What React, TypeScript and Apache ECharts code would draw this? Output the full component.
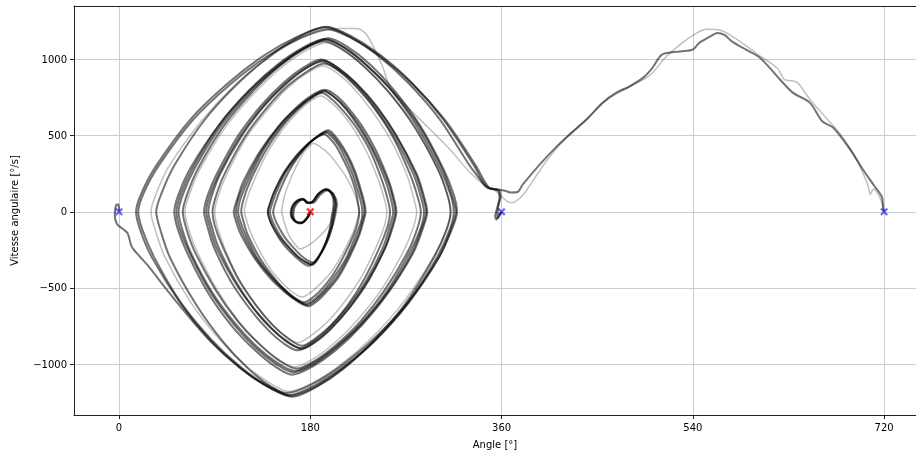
import React, { useEffect, useRef } from 'react';
import * as echarts from 'echarts';

const xTicks = [0, 180, 360, 540, 720];
const yTicks = [-1000, -500, 0, 500, 1000];
const startPoint = [[180, 0]];
const endPoints = [[0, 0], [360, 0], [720, 0]];

// Trial A: spiral then balance at 360
const trialA = [
  [180,0],[178,-35],[172,-72],[166,-62],[163,-20],[164,30],[168,70],[173,82],[177,60],[181,62],[187,115],[194,145],[200,120],[203,60],[202,0],
  [201,-35],[200,-86],[196,-172],[192,-241],[188,-293],[184,-328],[181,-345],[175,-328],[168,-293],[161,-241],[153,-172],[146,-86],[143,-35],[142,0],
  [144,52],[148,130],[157,260],[168,364],[178,442],[187,494],[195,520],[200,494],[206,442],[212,364],[219,260],[225,130],[228,52],[229,0],
  [228,-60],[223,-151],[214,-302],[203,-423],[193,-514],[184,-575],[176,-605],[167,-575],[156,-514],[143,-423],[130,-302],[119,-151],[114,-60],[112,0],
  [114,79],[121,198],[135,395],[151,553],[167,672],[181,751],[193,790],[203,751],[214,672],[226,553],[239,395],[251,198],[256,79],[258,0],
  [255,-90],[249,-224],[233,-448],[215,-627],[198,-761],[183,-850],[170,-895],[157,-850],[143,-761],[126,-627],[109,-448],[93,-224],[87,-90],[84,0],
  [87,99],[95,247],[115,494],[136,691],[157,839],[175,938],[191,987],[205,938],[222,839],[240,691],[259,494],[277,247],[284,99],[287,0],
  [284,-105],[274,-261],[252,-523],[228,-732],[204,-888],[183,-993],[165,-1045],[149,-993],[130,-888],[109,-732],[87,-523],[67,-261],[59,-105],[56,0],
  [60,113],[71,283],[96,566],[124,792],[151,961],[174,1074],[195,1131],[213,1074],[233,961],[257,792],[280,566],[302,283],[312,113],[315,0],
  [311,-121],[299,-302],[271,-604],[241,-846],[211,-1027],[185,-1148],[162,-1208],[143,-1148],[121,-1027],[97,-846],[72,-604],[48,-302],[39,-121],[35,0],
  [40,122],[52,304],[81,608],[113,851],[144,1034],[171,1155],[195,1216],[218,1155],[245,1034],[275,851],[305,608],[334,304],[342,200],[348,155],[353,150],[358,140],[359,100],[357,40],[356,-20],[356,-45],[358,-20],[360,0]
];

// Trial B: spiral, over the top, one more turn to 720
const trialB = [
  [180,0],[177,-40],[171,-75],[165,-58],[162,-15],[163,35],[168,75],[173,85],[178,58],[182,65],[188,120],[195,150],[201,118],[204,55],[203,0],
  [202,-34],[201,-84],[197,-168],[193,-235],[189,-285],[186,-318],[183,-335],[177,-318],[171,-285],[164,-235],[156,-168],[149,-84],[146,-34],[145,0],
  [147,54],[151,134],[160,268],[170,375],[180,455],[189,508],[197,535],[202,508],[208,455],[215,375],[222,268],[228,134],[231,54],[232,0],
  [230,-62],[226,-155],[216,-310],[206,-434],[195,-527],[186,-589],[178,-620],[168,-589],[156,-527],[142,-434],[128,-310],[115,-155],[110,-62],[108,0],
  [111,80],[117,200],[133,400],[150,560],[167,680],[182,760],[195,800],[205,760],[216,680],[229,560],[242,400],[254,200],[259,80],[261,0],
  [258,-91],[251,-228],[234,-455],[216,-637],[198,-774],[182,-865],[168,-910],[155,-865],[140,-774],[123,-637],[105,-455],[89,-228],[83,-91],[80,0],
  [83,100],[92,250],[112,500],[134,700],[155,850],[174,950],[190,1000],[205,950],[222,850],[241,700],[261,500],[280,250],[287,100],[290,0],
  [286,-107],[277,-268],[253,-535],[228,-749],[204,-910],[182,-1017],[163,-1070],[147,-1017],[128,-910],[106,-749],[84,-535],[64,-268],[55,-107],[52,0],
  [56,114],[67,285],[94,570],[123,798],[151,969],[176,1083],[197,1140],[215,1083],[236,969],[259,798],[283,570],[305,285],[315,114],[318,0],
  [313,-119],[301,-298],[272,-595],[240,-833],[209,-1012],[182,-1131],[158,-1190],[137,-1131],[113,-1012],[86,-833],[58,-595],[33,-298],[22,-119],[18,0],
  [23,120],[37,300],[69,600],[105,840],[139,1020],[170,1140],[196,1200],[219,1140],[246,1020],[276,840],[307,600],[336,300],[344,200],[350,150],[356,148],[362,140],[369,127],[375,130],[380,180],
  [396,312],[412,430],[424,508],[440,606],[455,717],[468,783],[480,823],[493,880],[502,946],[511,1033],[528,1053],[540,1066],[546,1110],[556,1150],[563,1175],[570,1160],[577,1118],[590,1065],[603,1013],[622,869],[634,783],[650,717],[662,593],[672,553],[688,410],[700,278],[711,168],[718,96],[719,30],[720,0]
];

// Trial C: spiral then falls back to 0
const trialC = [
  [180,0],[178,-30],[173,-70],[167,-66],[164,-25],[165,25],[169,66],[174,80],[178,62],[183,60],[189,110],[196,142],[202,115],[205,50],[204,0],
  [203,-36],[201,-89],[197,-178],[192,-249],[187,-302],[183,-337],[179,-355],[173,-337],[167,-302],[159,-249],[151,-178],[144,-89],[141,-36],[140,0],
  [142,51],[146,128],[155,255],[166,357],[176,434],[185,485],[193,510],[198,485],[204,434],[210,357],[217,255],[223,128],[225,51],[226,0],
  [225,-60],[221,-149],[211,-298],[201,-417],[191,-506],[182,-565],[174,-595],[165,-565],[155,-506],[144,-417],[132,-298],[121,-149],[117,-60],[115,0],
  [117,78],[123,195],[137,390],[152,546],[167,663],[180,741],[191,780],[200,741],[211,663],[224,546],[237,390],[248,195],[253,78],[255,0],
  [253,-88],[246,-220],[231,-440],[215,-616],[199,-748],[184,-836],[172,-880],[160,-836],[145,-748],[129,-616],[112,-440],[97,-220],[90,-88],[88,0],
  [91,98],[99,244],[118,488],[139,683],[159,829],[178,926],[193,975],[207,926],[222,829],[240,683],[258,488],[274,244],[281,98],[284,0],
  [281,-103],[272,-258],[250,-515],[227,-721],[204,-876],[184,-979],[167,-1030],[151,-979],[133,-876],[112,-721],[91,-515],[71,-258],[63,-103],[60,0],
  [64,112],[74,280],[98,560],[125,784],[150,952],[173,1064],[193,1120],[211,1064],[231,952],[254,784],[278,560],[300,280],[309,112],[312,0],
  [308,-122],[296,-304],[269,-608],[239,-851],[211,-1033],[185,-1154],[163,-1215],[141,-1154],[115,-1033],[86,-851],[56,-608],[38,-450],[28,-360],[19,-290],[12,-230],[8,-140],[3,-110],[-2,-80],[-4,-20],[-3,40],[-1,50],[0,10],[0,0]
];

// Trial D: lighter run, wider first loop, flat top, then to 720
const trialD = [
  [180,0],[176,-40],[170,-80],[164,-55],[161,-10],[163,40],[168,78],[173,80],[177,55],[183,70],[190,130],[196,148],[202,110],[204,40],[203,0],
  [202,-25],[200,-61],[194,-123],[187,-172],[181,-208],[175,-233],[170,-245],[168,-233],[165,-208],[161,-172],[158,-123],[155,-61],[154,-25],[153,0],
  [154,45],[156,113],[162,225],[168,315],[173,383],[179,428],[183,450],[189,428],[197,383],[205,315],[214,225],[222,113],[225,45],[226,0],
  [224,-56],[220,-140],[210,-280],[200,-392],[189,-476],[180,-532],[172,-560],[164,-532],[155,-476],[144,-392],[134,-280],[124,-140],[120,-56],[118,0],
  [120,76],[126,190],[139,380],[153,532],[167,646],[179,722],[190,760],[199,722],[210,646],[222,532],[234,380],[245,190],[250,76],[252,0],
  [250,-86],[243,-215],[228,-430],[211,-602],[195,-731],[180,-817],[168,-860],[156,-817],[143,-731],[128,-602],[112,-430],[98,-215],[92,-86],[90,0],
  [93,96],[101,240],[119,480],[140,672],[159,816],[177,912],[192,960],[205,912],[220,816],[237,672],[255,480],[271,240],[277,96],[280,0],
  [277,-102],[268,-255],[247,-510],[224,-714],[202,-867],[182,-969],[165,-1020],[150,-969],[132,-867],[112,-714],[92,-510],[73,-255],[65,-102],[62,0],
  [66,111],[76,278],[100,555],[127,777],[152,944],[175,1055],[195,1110],[212,1055],[232,944],[255,777],[278,555],[300,278],[309,111],[312,0],
  [308,-118],[296,-295],[268,-590],[238,-826],[209,-1003],[183,-1121],[160,-1180],[141,-1121],[118,-1003],[93,-826],[67,-590],[43,-295],[34,-118],[30,0],
  [35,120],[47,300],[78,600],[110,840],[142,1020],[171,1140],[195,1195],[208,1205],[224,1205],[233,1163],[242,1045],[248,954],[255,823],[270,700],[290,560],[310,420],[330,260],[345,170],[352,150],[360,100],[366,65],[370,60],
  [380,110],[392,230],[405,360],[420,480],[440,610],[460,740],[480,820],[500,900],[515,1020],[530,1110],[545,1180],[553,1200],[565,1195],[580,1140],[600,1040],[620,940],[626,870],[638,850],[650,740],[665,620],[680,500],[695,330],[705,170],[707,115],[710,150],[714,120],[718,60],[720,0]
];

// Trial E: spiral then balance at 360
const trialE = [
  [180,0],[177,-38],[171,-74],[165,-60],[162,-18],[163,32],[168,72],[173,84],[177,58],[182,63],[188,118],[195,146],[200,118],[202,55],[201,0],
  [200,-35],[199,-88],[196,-175],[192,-245],[188,-298],[185,-333],[182,-350],[176,-333],[169,-298],[161,-245],[152,-175],[144,-88],[141,-35],[140,0],
  [142,53],[146,132],[156,264],[167,370],[178,449],[188,502],[196,528],[201,502],[207,449],[214,370],[221,264],[227,132],[230,53],[231,0],
  [229,-61],[225,-153],[215,-306],[205,-428],[194,-520],[185,-581],[177,-612],[167,-581],[156,-520],[143,-428],[129,-306],[117,-153],[112,-61],[110,0],
  [112,80],[119,200],[134,399],[150,559],[166,678],[180,758],[192,798],[202,758],[214,678],[227,559],[240,399],[253,200],[258,80],[260,0],
  [257,-90],[251,-225],[235,-450],[217,-630],[200,-765],[185,-855],[172,-900],[159,-855],[143,-765],[126,-630],[108,-450],[91,-225],[85,-90],[82,0],
  [85,100],[94,249],[114,498],[136,697],[157,846],[176,945],[192,995],[206,945],[223,846],[242,697],[261,498],[279,249],[286,100],[289,0],
  [285,-106],[276,-264],[253,-528],[228,-739],[204,-897],[183,-1002],[164,-1055],[148,-1002],[129,-897],[108,-739],[86,-528],[66,-264],[57,-106],[54,0],
  [58,114],[69,284],[94,568],[122,795],[149,965],[173,1078],[194,1135],[212,1078],[233,965],[257,795],[282,568],[304,284],[313,114],[317,0],
  [312,-121],[301,-301],[272,-603],[241,-844],[210,-1024],[183,-1145],[160,-1205],[139,-1145],[114,-1024],[86,-844],[58,-603],[31,-301],[20,-121],[16,0],
  [21,121],[35,303],[67,606],[103,848],[137,1030],[168,1151],[194,1212],[217,1151],[243,1030],[272,848],[302,606],[330,303],[340,210],[346,160],[352,150],[357,135],[358,90],[356,30],[354,-30],[355,-50],[358,-25],[360,0]
];

const darkTrials = [trialA, trialB, trialC, trialE];
const lightTrials = [trialD];

const FONT = 'DejaVu Sans';

export default function App() {
  const ref = useRef<HTMLDivElement>(null);
  useEffect(() => {
    if (!ref.current) return;
    const chart = echarts.init(ref.current, null, { renderer: 'svg' });
    const xMark = 'path://M0,2L2,0L5,3L8,0L10,2L7,5L10,8L8,10L5,7L2,10L0,8L3,5Z';
    const mk = (t: number[][], color: string, width: number) => ({
      type: 'line',
      data: t,
      showSymbol: false,
      smooth: 0.3,
      silent: true,
      lineStyle: { color, width },
      z: 2,
    });
    const lineSeries = [
      ...lightTrials.map((t) => mk(t, 'rgba(0,0,0,0.25)', 1.5)),
      ...darkTrials.map((t) => mk(t, 'rgba(0,0,0,0.55)', 2)),
    ];
    const axisText = { fontFamily: FONT, fontSize: 10, color: '#000' };
    chart.setOption({
      animation: false,
      grid: { left: 74, top: 6, right: 0, bottom: 38 },
      xAxis: [
        {
          type: 'value', min: -42.4, max: 750, position: 'bottom',
          name: 'Angle [°]', nameLocation: 'middle', nameGap: 24,
          nameTextStyle: axisText,
          axisLine: { show: true, onZero: false, lineStyle: { color: '#222', width: 1 } },
          axisTick: { show: true, length: 4, customValues: xTicks, lineStyle: { color: '#222' } },
          axisLabel: { customValues: xTicks, ...axisText, margin: 7 },
          splitLine: { show: true, lineStyle: { color: '#cccccc', width: 1 } },
        },
        {
          type: 'value', min: -42.4, max: 750, position: 'top',
          axisLine: { show: true, onZero: false, lineStyle: { color: '#222', width: 1 } },
          axisTick: { show: false }, axisLabel: { show: false }, splitLine: { show: false },
        },
      ],
      yAxis: {
        type: 'value', min: -1335, max: 1352, position: 'left',
        name: 'Vitesse angulaire [°/s]', nameLocation: 'middle', nameGap: 55,
        nameTextStyle: axisText,
        axisLine: { show: true, onZero: false, lineStyle: { color: '#222', width: 1 } },
        axisTick: { show: true, length: 4, customValues: yTicks, lineStyle: { color: '#222' } },
        axisLabel: {
          customValues: yTicks, ...axisText, margin: 7,
          formatter: (v: number) => (v < 0 ? '\u2212' + Math.abs(v) : String(v)),
        },
        splitLine: { show: true, lineStyle: { color: '#cccccc', width: 1 } },
      },
      series: [
        ...lineSeries,
        {
          type: 'scatter', data: startPoint, symbol: xMark, symbolSize: 8, silent: true, z: 5,
          itemStyle: { color: '#ee0000' },
        },
        {
          type: 'scatter', data: endPoints, symbol: xMark, symbolSize: 8, silent: true, z: 5,
          itemStyle: { color: 'rgba(20,20,230,0.75)' },
        },
      ],
    });
    return () => chart.dispose();
  }, []);
  return <div ref={ref} style={{ position: 'fixed', left: 0, top: 0, width: 916, height: 454 }} />;
}
